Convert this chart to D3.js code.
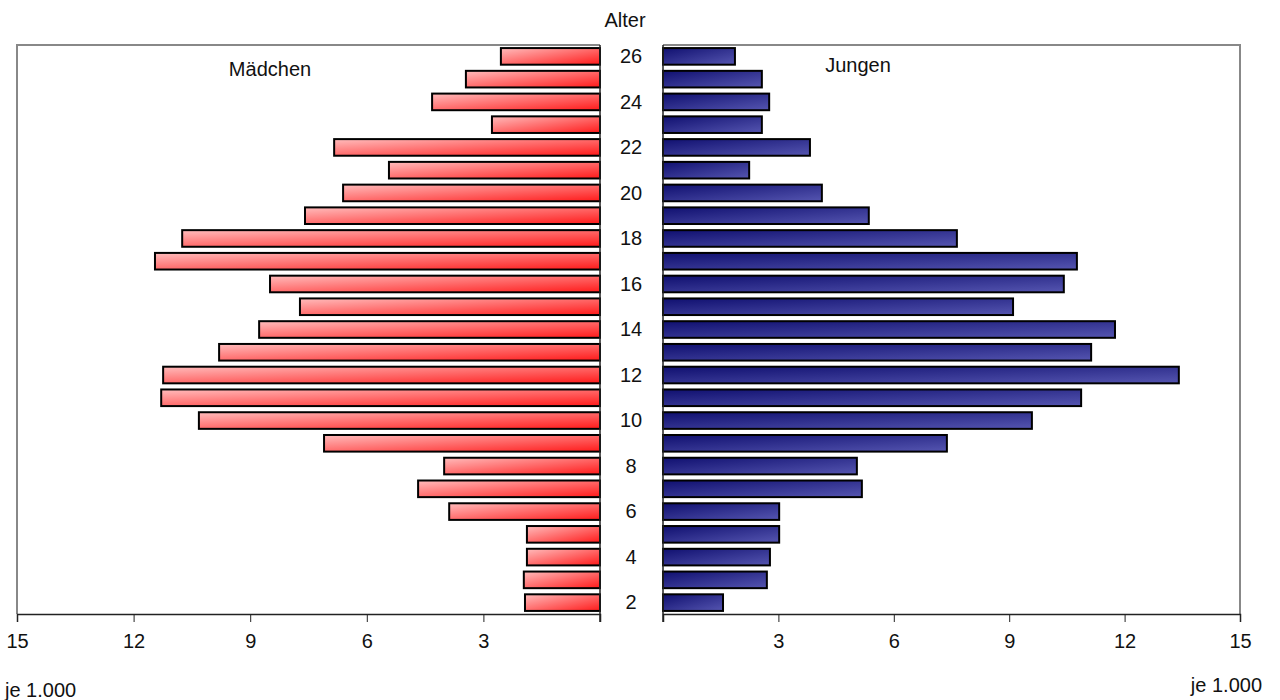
<!DOCTYPE html>
<html><head><meta charset="utf-8">
<script src="https://cdn.jsdelivr.net/npm/d3@7"></script>
<style>body{margin:0;background:#fff}svg{display:block;font-family:"Liberation Sans",Arial,sans-serif}</style>
</head><body><svg id="c" width="1280" height="700"></svg>
<script>
const ages = [26,25,24,23,22,21,20,19,18,17,16,15,14,13,12,11,10,9,8,7,6,5,4,3,2];
const girls = [2.55,3.45,4.32,2.78,6.84,5.43,6.61,7.59,10.75,11.45,8.49,7.72,8.77,9.80,11.24,11.29,10.32,7.10,4.01,4.68,3.88,1.88,1.88,1.96,1.93];
const boys = [1.87,2.57,2.76,2.57,3.82,2.24,4.13,5.35,7.64,10.76,10.42,9.10,11.75,11.13,13.41,10.87,9.59,7.38,5.04,5.17,3.02,3.02,2.78,2.70,1.56];
const xTicks = [0,3,6,9,12,15];
const ageLabels = [26,24,22,20,18,16,14,12,10,8,6,4,2];

const svg = d3.select("#c");
const plotTop = 45, plotBottom = 614;
const FS = 20;
const y = d3.scaleBand().domain(ages).range([plotTop,plotBottom]).paddingInner(0.27).paddingOuter(0.135);
const xL = d3.scaleLinear().domain([0,15]).range([600,17]);
const xR = d3.scaleLinear().domain([0,15]).range([663,1240]);

const defs = svg.append("defs");
const gr = defs.append("linearGradient").attr("id","gRed").attr("x1","0").attr("y1","0").attr("x2","1").attr("y2","1");
gr.append("stop").attr("offset","0").attr("stop-color","#ffbcbc");
gr.append("stop").attr("offset","1").attr("stop-color","#ff1a1a");
const gb = defs.append("linearGradient").attr("id","gBlue").attr("x1","0").attr("y1","0").attr("x2","1").attr("y2","1");
gb.append("stop").attr("offset","0").attr("stop-color","#101070");
gb.append("stop").attr("offset","1").attr("stop-color","#5555b0");

// frames
svg.append("path").attr("d",`M${xL(0)},${plotTop}H${xL(15)}V${plotBottom}`).attr("fill","none").attr("stroke","#888").attr("stroke-width",2);
svg.append("path").attr("d",`M${xR(0)},${plotTop}H${xR(15)}V${plotBottom}`).attr("fill","none").attr("stroke","#888").attr("stroke-width",2);

// bars
svg.append("g").selectAll("rect").data(ages).join("rect")
  .attr("x",(d,i)=>xL(girls[i])).attr("y",d=>y(d))
  .attr("width",(d,i)=>xL(0)-xL(girls[i])).attr("height",y.bandwidth())
  .attr("fill","url(#gRed)").attr("stroke","#000").attr("stroke-width",2);
svg.append("g").selectAll("rect").data(ages).join("rect")
  .attr("x",xR(0)).attr("y",d=>y(d))
  .attr("width",(d,i)=>xR(boys[i])-xR(0)).attr("height",y.bandwidth())
  .attr("fill","url(#gBlue)").attr("stroke","#000").attr("stroke-width",2);

// axes
const axL = d3.axisBottom(xL).tickValues(xTicks).tickSize(8).tickFormat(d=>d===0?"":d);
const axR = d3.axisBottom(xR).tickValues(xTicks).tickSize(8).tickFormat(d=>d===0?"":d);
[axL,axR].forEach(ax=>{
  const g = svg.append("g").attr("transform",`translate(0,${plotBottom})`).call(ax);
  g.select(".domain").attr("stroke","#222").attr("stroke-width",1.5);
  g.selectAll(".tick line").attr("stroke","#222");
  g.selectAll(".tick text").attr("font-size",FS).attr("fill","#111").attr("y",34).attr("dy",0).attr("font-family","Liberation Sans, Arial, sans-serif");
});
// vertical zero lines
svg.append("line").attr("x1",xL(0)).attr("x2",xL(0)).attr("y1",plotTop).attr("y2",plotBottom+8).attr("stroke","#222").attr("stroke-width",1.5);
svg.append("line").attr("x1",xR(0)).attr("x2",xR(0)).attr("y1",plotTop).attr("y2",plotBottom+8).attr("stroke","#222").attr("stroke-width",1.5);

// age labels
svg.append("g").selectAll("text").data(ageLabels).join("text")
  .attr("x",631).attr("y",d=>y(d)+y.bandwidth()/2).attr("dy","0.33em")
  .attr("text-anchor","middle").attr("font-size",FS).attr("fill","#111").text(d=>d);

svg.append("text").attr("x",625).attr("y",27).attr("text-anchor","middle").attr("font-size",FS).attr("fill","#111").text("Alter");
svg.append("text").attr("x",270).attr("y",76).attr("text-anchor","middle").attr("font-size",FS).attr("fill","#111").text("Mädchen");
svg.append("text").attr("x",858).attr("y",72).attr("text-anchor","middle").attr("font-size",FS).attr("fill","#111").text("Jungen");
svg.append("text").attr("x",5).attr("y",697).attr("font-size",FS).attr("fill","#111").text("je 1.000");
svg.append("text").attr("x",1262).attr("y",692).attr("text-anchor","end").attr("font-size",FS).attr("fill","#111").text("je 1.000");
</script></body></html>
